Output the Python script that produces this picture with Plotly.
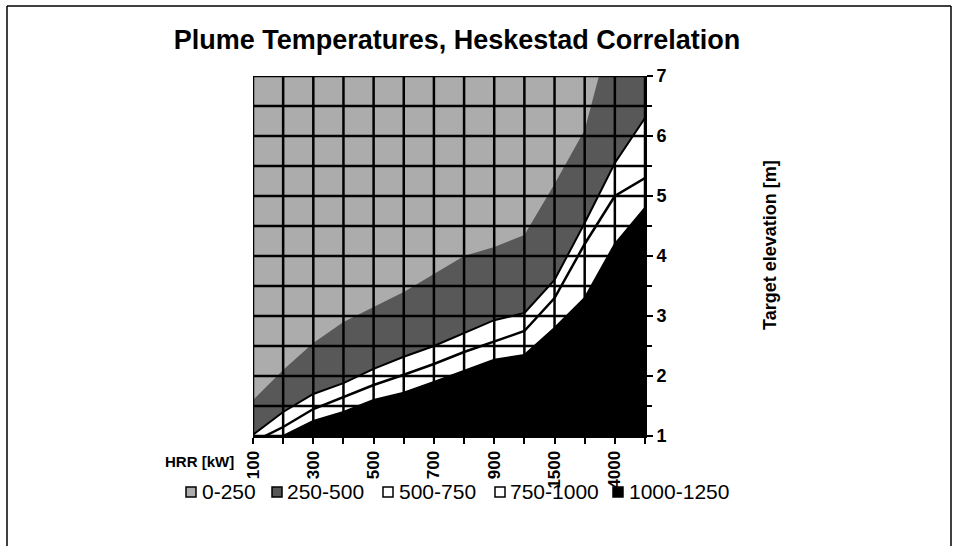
import plotly.graph_objects as go

# HRR categories (x axis)
hrr_kw = ["100", "200", "300", "400", "500", "600", "700", "800", "900",
          "1000", "1500", "2000", "4000", "5000"]
# elevation [m] of each isotherm boundary, per HRR category
elev_250 = [1.6, 2.1, 2.55, 2.9, 3.15, 3.4, 3.7, 4.0, 4.15, 4.35, 5.2, 6.1, 8.0, 8.5]
elev_500 = [1.02, 1.4, 1.7, 1.88, 2.12, 2.32, 2.5, 2.72, 2.93, 3.05, 3.6, 4.55, 5.55, 6.3]
elev_750 = [0.9, 1.15, 1.45, 1.65, 1.85, 2.02, 2.2, 2.4, 2.57, 2.75, 3.3, 4.2, 5.0, 5.3]
elev_1000 = [0.8, 1.0, 1.25, 1.4, 1.6, 1.72, 1.9, 2.08, 2.27, 2.35, 2.8, 3.3, 4.2, 4.8]

y_ticks = [1, 2, 3, 4, 5, 6, 7]
y_grid = [1 + 0.5 * k for k in range(13)]
legend_names = ["0-250", "250-500", "500-750", "750-1000", "1000-1250"]

LIGHT = "#acacac"
DARK = "#585858"
WHITE = "#ffffff"
BLACK = "#000000"
legend_colors = [LIGHT, DARK, WHITE, WHITE, BLACK]

FONT = "Liberation Sans, Arial, sans-serif"

fig = go.Figure()
fig.add_trace(go.Scatter(x=hrr_kw, y=elev_250, mode="lines", fill="tozeroy",
                         fillcolor=DARK, line=dict(color=DARK, width=0),
                         showlegend=False, hoverinfo="skip"))
fig.add_trace(go.Scatter(x=hrr_kw, y=elev_500, mode="lines", fill="tozeroy",
                         fillcolor=WHITE, line=dict(color=BLACK, width=2),
                         showlegend=False, hoverinfo="skip"))
fig.add_trace(go.Scatter(x=hrr_kw, y=elev_750, mode="lines",
                         line=dict(color=BLACK, width=2.5),
                         showlegend=False, hoverinfo="skip"))
fig.add_trace(go.Scatter(x=hrr_kw, y=elev_1000, mode="lines", fill="tozeroy",
                         fillcolor=BLACK, line=dict(color=BLACK, width=2),
                         showlegend=False, hoverinfo="skip"))

L, T = 253, 76
W, H = 392, 360
def px(v):
    return (v - L) / W
def py(v):
    return (T + H - v) / H

shapes = []
for i in range(len(hrr_kw)):
    shapes.append(dict(type="line", xref="x", yref="y", x0=i, x1=i, y0=1, y1=7,
                       line=dict(color=BLACK, width=2.5), layer="above"))
for yv in y_grid:
    shapes.append(dict(type="line", xref="x", yref="y", x0=0, x1=len(hrr_kw) - 1,
                       y0=yv, y1=yv, line=dict(color=BLACK, width=2.5), layer="above"))
# outer chart frame
shapes.append(dict(type="line", xref="paper", yref="paper", x0=px(7), x1=px(951),
                   y0=py(6), y1=py(6), line=dict(color=BLACK, width=1.5)))
shapes.append(dict(type="line", xref="paper", yref="paper", x0=px(7), x1=px(7),
                   y0=py(6), y1=py(546), line=dict(color=BLACK, width=1.5)))
shapes.append(dict(type="line", xref="paper", yref="paper", x0=px(951), x1=px(951),
                   y0=py(6), y1=py(546), line=dict(color=BLACK, width=1.5)))

# manual legend (single row) : box left edges and text left edges in px
legend_box_x = [186, 272, 383, 495, 613]
legend_text_x = [200, 285, 397, 508, 627]
legend_y = 492
annotations = []
for name, col, bx, tx in zip(legend_names, legend_colors, legend_box_x, legend_text_x):
    shapes.append(dict(type="rect", xref="paper", yref="paper",
                       x0=px(bx), x1=px(bx + 10), y0=py(legend_y + 5), y1=py(legend_y - 5),
                       fillcolor=col, line=dict(color=BLACK, width=1.5)))
    annotations.append(dict(text=name, xref="paper", yref="paper", x=px(tx),
                            y=py(legend_y), xanchor="left", yanchor="middle",
                            showarrow=False, font=dict(size=21, family=FONT)))

annotations += [
    dict(text="<b>Target elevation [m]</b>", xref="paper", yref="paper",
         x=px(770), y=py(245), textangle=-90, showarrow=False,
         font=dict(size=18, family=FONT), xanchor="center", yanchor="middle"),
    dict(text="<b>HRR [kW]</b>", xref="paper", yref="paper",
         x=px(236), y=py(461), showarrow=False,
         font=dict(size=15, family=FONT), xanchor="right", yanchor="middle"),
]

ticktext = [c if k % 2 == 0 else "" for k, c in enumerate(hrr_kw)]

fig.update_layout(
    width=957, height=546,
    margin=dict(l=L, r=957 - L - W, t=T, b=546 - T - H, autoexpand=False),
    paper_bgcolor="white", plot_bgcolor=LIGHT,
    font=dict(family=FONT, color="black"),
    showlegend=False,
    title=dict(text="<b>Plume Temperatures, Heskestad Correlation</b>",
               xref="container", yref="container",
               x=457 / 957, xanchor="center", y=1 - 40 / 546, yanchor="middle",
               font=dict(size=27, family=FONT)),
    xaxis=dict(type="category", range=[0, len(hrr_kw) - 1], showgrid=False,
               tickmode="array", tickvals=hrr_kw, ticktext=ticktext,
               tickangle=-90, ticks="outside", ticklen=6, tickwidth=1.5,
               tickcolor=BLACK, showline=True, linecolor=BLACK, linewidth=2,
               tickfont=dict(size=17, family=FONT, weight="bold"), zeroline=False),
    yaxis=dict(side="right", range=[1, 7], tickvals=y_ticks, showgrid=False,
               ticks="outside", ticklen=6, tickwidth=1.5, tickcolor=BLACK,
               minor=dict(dtick=0.5, ticks="outside", ticklen=5, tickwidth=1.5,
                          tickcolor=BLACK, showgrid=False),
               showline=True, linecolor=BLACK, linewidth=2, zeroline=False,
               tickfont=dict(size=18, family=FONT, weight="bold")),
    shapes=shapes,
    annotations=annotations,
)

fig.write_html("out.html", post_script="document.body.style.margin='0';",
               config={"displayModeBar": False})
